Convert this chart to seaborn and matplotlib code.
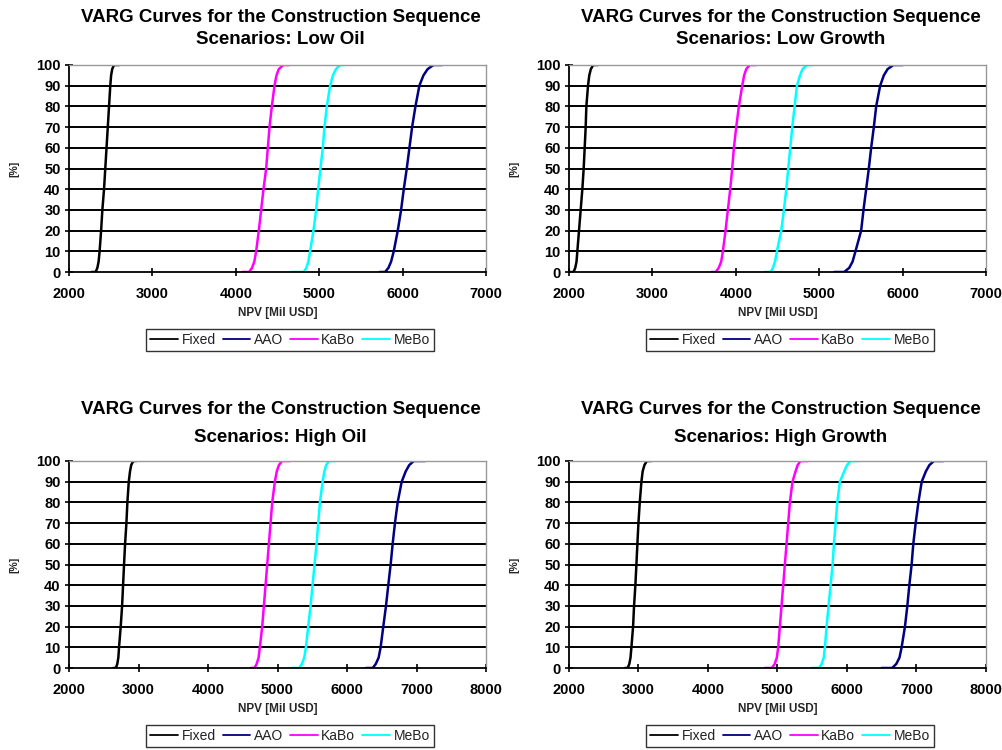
import pandas as pd
import matplotlib.pyplot as plt
import seaborn as sns

# cumulative probability levels [%] shared by all curves
pct = [0, 0, 2, 5, 10, 20, 30, 40, 50, 60, 70, 80, 90, 95, 98, 100, 100]

series = ["Fixed", "AAO", "KaBo", "MeBo"]
colors = ["black", "#000080", "#FF00FF", "#00FFFF"]

scenarios = ["Low Oil", "Low Growth", "High Oil", "High Growth"]
xmax = [7000, 7000, 8000, 8000]

# NPV [Mil USD]
low_oil_fixed = [2270, 2320, 2340, 2355, 2367, 2385, 2400, 2420, 2435, 2450, 2465, 2480, 2495, 2505, 2518, 2540, 2600]
low_oil_aao = [5722, 5790, 5830, 5862, 5894, 5942, 5982, 6014, 6050, 6082, 6114, 6154, 6201, 6250, 6300, 6370, 6473]
low_oil_kabo = [4077, 4160, 4195, 4222, 4244, 4276, 4304, 4332, 4364, 4384, 4404, 4432, 4464, 4488, 4515, 4570, 4644]
low_oil_mebo = [4672, 4815, 4845, 4870, 4891, 4931, 4963, 4987, 5015, 5043, 5063, 5091, 5131, 5165, 5200, 5250, 5303]

low_growth_fixed = [2008, 2055, 2075, 2090, 2100, 2120, 2140, 2160, 2176, 2188, 2200, 2208, 2228, 2243, 2262, 2290, 2348]
low_growth_aao = [5183, 5300, 5360, 5400, 5435, 5503, 5531, 5563, 5595, 5623, 5655, 5683, 5731, 5775, 5820, 5890, 6002]
low_growth_kabo = [3705, 3760, 3795, 3825, 3845, 3877, 3905, 3933, 3957, 3977, 4005, 4037, 4077, 4100, 4125, 4165, 4245]
low_growth_mebo = [4345, 4420, 4445, 4470, 4493, 4545, 4577, 4605, 4629, 4653, 4677, 4705, 4733, 4770, 4800, 4850, 4923]

high_oil_fixed = [2634, 2675, 2695, 2710, 2720, 2744, 2764, 2778, 2792, 2807, 2826, 2840, 2860, 2878, 2895, 2925, 2970]
high_oil_aao = [6273, 6370, 6415, 6455, 6484, 6522, 6561, 6594, 6628, 6657, 6690, 6729, 6787, 6845, 6895, 6960, 7123]
high_oil_kabo = [4611, 4670, 4700, 4728, 4746, 4780, 4804, 4828, 4852, 4876, 4900, 4924, 4962, 4990, 5020, 5065, 5178]
high_oil_mebo = [5212, 5315, 5350, 5385, 5409, 5442, 5476, 5504, 5533, 5562, 5586, 5610, 5649, 5675, 5700, 5740, 5826]

high_growth_fixed = [2802, 2845, 2868, 2885, 2898, 2922, 2936, 2955, 2970, 2984, 2999, 3018, 3042, 3060, 3085, 3120, 3186]
high_growth_aao = [6498, 6650, 6710, 6755, 6786, 6834, 6868, 6897, 6930, 6954, 6988, 7027, 7075, 7135, 7185, 7250, 7387]
high_growth_kabo = [4818, 4920, 4960, 4990, 5010, 5034, 5058, 5082, 5106, 5130, 5154, 5178, 5216, 5260, 5290, 5330, 5442]
high_growth_mebo = [5490, 5600, 5635, 5665, 5682, 5706, 5735, 5764, 5793, 5812, 5836, 5860, 5898, 5960, 6000, 6050, 6162]

panel_data = [
    [low_oil_fixed, low_oil_aao, low_oil_kabo, low_oil_mebo],
    [low_growth_fixed, low_growth_aao, low_growth_kabo, low_growth_mebo],
    [high_oil_fixed, high_oil_aao, high_oil_kabo, high_oil_mebo],
    [high_growth_fixed, high_growth_aao, high_growth_kabo, high_growth_mebo],
]

sns.set_style("white")
plt.rcParams['font.family'] = ['Liberation Sans', 'DejaVu Sans']
plt.rcParams['text.color'] = 'black'

fig = plt.figure(figsize=(10.03, 7.5), dpi=100)
W, H = 1003, 750
# pixel boxes of the plot areas: left, top, right, bottom
boxes = [(69, 65, 486, 272), (569, 65, 986, 272), (69, 461, 486, 668), (569, 461, 986, 668)]
title_y = [(17, 40), (17, 40), (410, 437), (410, 437)]

for i, (l, t, r, b) in enumerate(boxes):
    ax = fig.add_axes([l / W, 1 - b / H, (r - l) / W, (b - t) / H])
    rows = []
    for name, xs in zip(series, panel_data[i]):
        for x, p in zip(xs, pct):
            rows.append({"npv": x, "pct": p, "series": name})
    df = pd.DataFrame(rows)
    sns.lineplot(data=df, x="npv", y="pct", hue="series", hue_order=series,
                 palette=colors, sort=False, estimator=None, linewidth=1.8,
                 ax=ax, legend=False)
    ax.set_xlim(2000, xmax[i])
    ax.set_ylim(0, 100)
    ax.set_xticks(range(2000, xmax[i] + 1, 1000))
    ax.set_yticks(range(0, 101, 10))
    for y in range(10, 100, 10):
        ax.axhline(y, color="black", linewidth=1.4, zorder=0)
    for s in ["top", "right"]:
        ax.spines[s].set_color("#999999")
        ax.spines[s].set_linewidth(1.0)
    for s in ["left", "bottom"]:
        ax.spines[s].set_color("black")
        ax.spines[s].set_linewidth(1.3)
    ax.tick_params(axis="both", direction="inout", length=6, width=1.2,
                   labelsize=10.5, colors="black", left=True, bottom=True)
    for lab in ax.get_xticklabels() + ax.get_yticklabels():
        lab.set_fontweight("bold")
    ax.tick_params(axis="x", pad=8)
    ax.tick_params(axis="y", pad=3)
    ax.set_xlabel("NPV [Mil USD]", fontsize=8.5, fontweight="bold", labelpad=4)
    ax.set_ylabel("[%]", fontsize=7.5, fontweight="bold", labelpad=12)

    cx = (l + r) / 2 / W + 0.003
    fig.text(cx, 1 - title_y[i][0] / H, "VARG Curves for the Construction Sequence",
             ha="center", va="center", fontsize=13.5, fontweight="bold")
    fig.text(cx, 1 - title_y[i][1] / H, "Scenarios: " + scenarios[i],
             ha="center", va="center", fontsize=13.5, fontweight="bold")

    handles = [plt.Line2D([], [], color=c, linewidth=1.3) for c in colors]
    leg = ax.legend(handles, series, loc="upper center", bbox_to_anchor=(0.53, -0.275),
                    ncol=4, frameon=True, fancybox=False, fontsize=10,
                    handlelength=2.0, handletextpad=0.25, columnspacing=0.5,
                    borderpad=0.3, borderaxespad=0)
    leg.get_frame().set_edgecolor("black")
    leg.get_frame().set_linewidth(1.0)
    for txt in leg.get_texts():
        txt.set_color("#222222")

plt.savefig("out.png", dpi=100)
